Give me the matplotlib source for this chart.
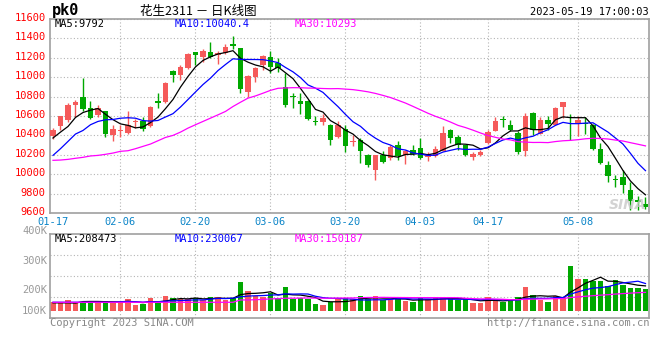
import numpy as np
import pandas as pd
import matplotlib
matplotlib.use('Agg')
import matplotlib.pyplot as plt
from matplotlib.transforms import ScaledTranslation

# daily K-line data, 2023-01-17 .. 2023-05-19
open_ = [10390, 10499, 10561, 10718, 10794, 10681, 10612, 10647, 10400, 10445,
         10427, 10540, 10551, 10499, 10753, 10746, 11061, 11023, 11092, 11256,
         11212, 11263, 11229, 11246, 11342, 11297, 10852, 10999, 11126, 11212,
         11143, 10903, 10801, 10756, 10756, 10547, 10537, 10510, 10383, 10465,
         10328, 10355, 10201, 10047, 10201, 10167, 10297, 10201, 10253, 10270,
         10174, 10184, 10242, 10458, 10383, 10297, 10174, 10194, 10321, 10448,
         10571, 10503, 10424, 10236, 10629, 10417, 10554, 10510, 10694, 10424,
         10516, 10523, 10510, 10259, 10092, 9951, 9968, 9835, 9729, 9694]
high = [10475, 10605, 10732, 10766, 10989, 10756, 10715, 10653, 10510, 10503,
        10647, 10571, 10585, 10708, 10842, 10948, 11075, 11126, 11253, 11263,
        11290, 11359, 11270, 11338, 11420, 11304, 11023, 11109, 11229, 11270,
        11201, 11040, 10835, 10835, 10760, 10605, 10619, 10516, 10551, 10510,
        10400, 10372, 10208, 10201, 10236, 10297, 10338, 10253, 10297, 10372,
        10229, 10294, 10492, 10465, 10400, 10304, 10229, 10253, 10458, 10585,
        10595, 10561, 10441, 10629, 10640, 10585, 10595, 10688, 10749, 10619,
        10605, 10585, 10516, 10321, 10140, 9996, 10047, 9920, 9773, 9763]
low = [10366, 10458, 10537, 10585, 10653, 10568, 10585, 10383, 10345, 10383,
       10414, 10475, 10448, 10486, 10681, 10732, 10955, 10972, 11085, 11126,
       11160, 11201, 11136, 11236, 11287, 10835, 10801, 10955, 11075, 11040,
       11057, 10691, 10681, 10623, 10561, 10510, 10503, 10304, 10372, 10225,
       10287, 10116, 10071, 9944, 10119, 10150, 10143, 10105, 10194, 10160,
       10140, 10174, 10236, 10321, 10253, 10184, 10150, 10184, 10311, 10441,
       10482, 10448, 10208, 10191, 10400, 10414, 10458, 10503, 10578, 10355,
       10390, 10414, 10253, 10105, 9917, 9866, 9807, 9636, 9626, 9646]
close = [10458, 10595, 10715, 10742, 10670, 10578, 10681, 10417, 10465, 10452,
         10503, 10551, 10465, 10691, 10736, 10938, 11023, 11102, 11239, 11229,
         11270, 11212, 11246, 11314, 11325, 10876, 11013, 11099, 11222, 11102,
         11092, 10715, 10794, 10722, 10568, 10540, 10578, 10355, 10503, 10294,
         10338, 10242, 10099, 10194, 10126, 10277, 10184, 10236, 10208, 10167,
         10208, 10259, 10424, 10372, 10297, 10194, 10208, 10229, 10434, 10551,
         10557, 10458, 10229, 10595, 10458, 10557, 10516, 10681, 10742, 10420,
         10554, 10516, 10263, 10116, 9979, 9941, 9893, 9722, 9718, 9664]
volume = [75, 80, 95, 75, 80, 80, 80, 86, 71, 75,
          103, 52, 58, 114, 71, 132, 114, 103, 101, 109,
          95, 123, 123, 95, 109, 252, 172, 132, 118, 152,
          114, 209, 101, 109, 101, 60, 52, 75, 109, 109,
          101, 129, 101, 129, 95, 101, 101, 89, 80, 109,
          101, 118, 118, 101, 95, 101, 71, 71, 118, 95,
          80, 95, 118, 209, 138, 95, 75, 132, 123, 387,
          275, 275, 258, 258, 218, 267, 224, 200, 200, 189]
volume = [v * 1000 for v in volume]

# moving-average values before enough in-window data exists
ma5_head = [10373, 10434, 10492, 10585]
ma10_head = [10194, 10263, 10338, 10414, 10451, 10510, 10544, 10561, 10564]
ma30_head = [10143, 10146, 10153, 10164, 10174, 10188, 10194, 10205, 10218, 10236,
             10242, 10263, 10287, 10311, 10345, 10379, 10400, 10434, 10475, 10510,
             10544, 10578, 10612, 10647, 10698, 10742, 10784, 10807, 10835]
vma5_head = [70000, 70000, 70000, 68000]
vma10_head = [75000, 75000, 75000, 75000, 75000, 75000, 75000, 75000, 75000]
vma30_head = [75000] * 25 + [95000, 95000, 97000, 100000]

date_idx = [0, 9, 19, 29, 39, 49, 58, 70]
date_labels = ['01-17', '02-06', '02-20', '03-06', '03-20', '04-03', '04-17', '05-08']
price_ticks = list(range(9600, 11601, 200))
vol_tick_labels = ['400K', '300K', '200K', '100K']

ma_price_text = ['MA5:9792', 'MA10:10040.4', 'MA30:10293']
ma_vol_text = ['MA5:208473', 'MA10:230067', 'MA30:150187']

RED = '#f55a5a'
GREEN = '#00a800'
GRID = '#b4b4b4'
SPINE = '#a0a0a0'
MONO = 'DejaVu Sans Mono'
plt.rcParams['font.family'] = MONO


def ma(values, n, head):
    s = pd.Series(values, dtype=float).rolling(n).mean()
    s.iloc[:n - 1] = head
    return s


def fpos(px, py):
    return px / 660, 1 - py / 360


o = np.array(open_)
c = np.array(close)
x = np.arange(len(c))
cols = [RED if cc > oo else GREEN for oo, cc in zip(o, c)]

fig = plt.figure(figsize=(6.6, 3.6), dpi=100)
ax = fig.add_axes([50 / 660, 1 - 213 / 360, 599 / 660, 194 / 360])
axv = fig.add_axes([50 / 660, 1 - 318 / 360, 599 / 660, 84 / 360])

# candles
body_lo = np.minimum(o, c)
body_h = np.maximum(np.abs(c - o), 8)
ax.vlines(x, low, high, colors=cols, lw=1.0, zorder=2)
ax.bar(x, body_h, bottom=body_lo, width=0.76, color=cols, lw=0, zorder=3)

ax.plot(x, ma(close, 5, ma5_head), color='black', lw=0.9, zorder=4)
ax.plot(x, ma(close, 10, ma10_head), color='#0000ff', lw=0.9, zorder=4)
ax.plot(x, ma(close, 30, ma30_head), color='#ff00ff', lw=0.9, zorder=4)

ax.set_xlim(-0.4, 79.47)
ax.set_ylim(9600, 11600)
ax.set_yticks(price_ticks)
ax.set_yticklabels([str(p) for p in price_ticks], color='#ff0000', fontsize=7.5)
ax.set_xticks(date_idx)
ax.set_xticklabels(date_labels, color='#0a84c8', fontsize=7.5)
ax.tick_params(length=0, pad=3)
ax.grid(axis='y', ls=(0, (1, 2)), color=GRID, lw=0.8)
lift = ScaledTranslation(0, 2 / 100, fig.dpi_scale_trans)
for lab in ax.get_yticklabels():
    lab.set_transform(lab.get_transform() + lift)

# volume
axv.bar(x, volume, width=0.76, color=cols, lw=0, zorder=2)
axv.plot(x, ma(volume, 5, vma5_head), color='black', lw=0.9, zorder=3)
axv.plot(x, ma(volume, 10, vma10_head), color='#0000ff', lw=0.9, zorder=3)
axv.plot(x, ma(volume, 30, vma30_head), color='#ff00ff', lw=0.9, zorder=3)
axv.set_xlim(-0.4, 79.47)
lo, hi = -7 * 8600, 77 * 8600
axv.set_ylim(lo, hi)
axv.set_yticks(np.linspace(lo, hi, 5)[1:-1])
axv.set_yticklabels([])
axv.set_xticks([])
axv.tick_params(length=0)
axv.grid(axis='y', ls=(0, (1, 2)), color=GRID, lw=0.8)

for a in (ax, axv):
    for d in date_idx[1:]:
        a.axvline(d, ls=(0, (1, 2)), color=GRID, lw=0.8, zorder=1)
    for sp in a.spines.values():
        sp.set_color(SPINE)
        sp.set_linewidth(1.2)

for t, px, py in zip(vol_tick_labels, [47] * 4, [231, 261, 290, 311]):
    fig.text(*fpos(px, py), t, color='#999999', fontsize=7.5, ha='right', va='center')

for t, col, px in zip(ma_price_text, ['black', '#0000ff', '#ff00ff'], [55, 175, 295]):
    fig.text(*fpos(px, 24), t, color=col, fontsize=7.5, va='center')
for t, col, px in zip(ma_vol_text, ['black', '#0000ff', '#ff00ff'], [55, 175, 295]):
    fig.text(*fpos(px, 239), t, color=col, fontsize=7.5, va='center')

fig.text(*fpos(52, 11), 'pk0', fontsize=11, fontweight='bold', va='center')
fig.text(*fpos(140, 11), '花生2311 － 日K线图', fontsize=9, va='center',
         family=['Noto Sans CJK SC', 'DejaVu Sans'])
fig.text(*fpos(649, 12), '2023-05-19 17:00:03', fontsize=7.5, ha='right', va='center')
fig.text(*fpos(50, 323), 'Copyright 2023 SINA.COM', color='#888888', fontsize=7.5, va='center')
fig.text(*fpos(649, 323), 'http://finance.sina.com.cn', color='#888888', fontsize=7.5,
         ha='right', va='center')
fig.text(*fpos(628, 205), 'SINA', color='#c8c8c8', fontsize=10, fontstyle='italic',
         fontweight='bold', ha='center', va='center', family='DejaVu Sans', alpha=0.8)

fig.savefig('out.png', dpi=100)
